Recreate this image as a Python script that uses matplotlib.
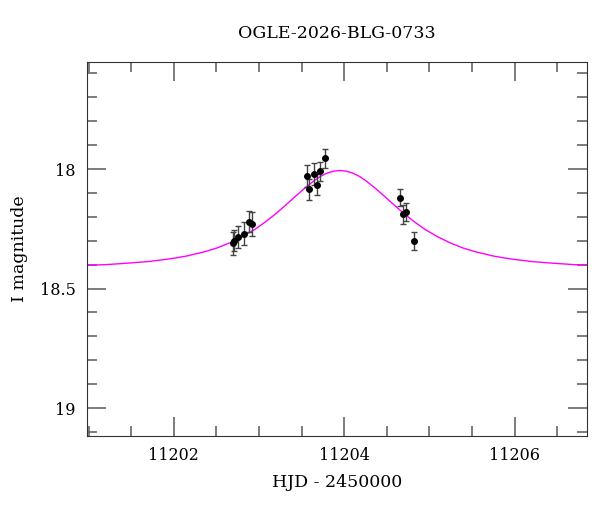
import numpy as np
import matplotlib
matplotlib.use('Agg')
import matplotlib.pyplot as plt
from matplotlib.ticker import MultipleLocator

# Datos fotometricos (HJD - 2450000, magnitud I, error)
hjd = [11202.69, 11202.71, 11202.75, 11202.82, 11202.88, 11202.92,
       11203.56, 11203.59, 11203.64, 11203.68, 11203.71, 11203.77,
       11204.65, 11204.69, 11204.73, 11204.82]
mag = [18.31, 18.30, 18.285, 18.27, 18.22, 18.23,
       18.03, 18.085, 18.02, 18.065, 18.01, 17.955,
       18.12, 18.19, 18.18, 18.30]
err = [0.048, 0.045, 0.045, 0.048, 0.045, 0.05,
       0.047, 0.045, 0.045, 0.045, 0.04, 0.04,
       0.035, 0.04, 0.038, 0.038]

# Curva del modelo
model_t = [11200.95, 11201.20, 11201.45, 11201.70, 11201.95, 11202.15,
           11202.35, 11202.50, 11202.65, 11202.80, 11202.95, 11203.075,
           11203.20, 11203.35, 11203.45, 11203.55, 11203.65, 11203.725,
           11203.80, 11203.875, 11203.95, 11204.025, 11204.10, 11204.175,
           11204.25, 11204.35, 11204.45, 11204.55, 11204.70, 11204.825,
           11204.95, 11205.10, 11205.25, 11205.40, 11205.55, 11205.75,
           11205.95, 11206.20, 11206.45, 11206.70, 11206.95]
model_m = [18.403, 18.400, 18.394, 18.387, 18.376, 18.364,
           18.347, 18.331, 18.310, 18.284, 18.253, 18.221,
           18.186, 18.139, 18.107, 18.076, 18.048, 18.030,
           18.017, 18.009, 18.006, 18.009, 18.017, 18.030,
           18.048, 18.076, 18.107, 18.139, 18.186, 18.221,
           18.253, 18.284, 18.310, 18.331, 18.347, 18.364,
           18.376, 18.387, 18.394, 18.400, 18.403]

xticks = [11202, 11204, 11206]
yticks = [18, 18.5, 19]
yticklabels = ['18', '18.5', '19']

plt.rcParams['font.family'] = ['DejaVu Serif']

fig = plt.figure(figsize=(6, 5.12), dpi=100)
ax = fig.add_axes([0.145, 0.1484, 0.8333, 0.7306])

ax.plot(model_t, model_m, color='#ff00ff', lw=1.0, zorder=2)
ax.errorbar(hjd, mag, yerr=err, fmt='o', color='black', ms=4,
            ecolor='#444444', elinewidth=1.0, capsize=2.5, capthick=1.0, zorder=3)

ax.set_xlim(11200.98, 11206.85)
ax.set_ylim(19.117, 17.552)

ax.set_xticks(xticks)
ax.set_xticklabels([str(t) for t in xticks])
ax.xaxis.set_minor_locator(MultipleLocator(0.5))
ax.set_yticks(yticks)
ax.set_yticklabels(yticklabels)
ax.yaxis.set_minor_locator(MultipleLocator(0.1))

ax.tick_params(which='both', direction='in', top=True, right=True,
               color='#666666', width=1.2, labelsize=11.5)
ax.tick_params(which='major', length=14, pad=8)
ax.tick_params(which='minor', length=7)
for s in ax.spines.values():
    s.set_color('#333333')

ax.set_xlabel('HJD - 2450000', fontsize=12.5, labelpad=7)
ax.set_ylabel('I magnitude', fontsize=12.5, labelpad=9)
ax.set_title('OGLE-2026-BLG-0733', fontsize=12.5, pad=17)

fig.savefig('out.png', dpi=100)
